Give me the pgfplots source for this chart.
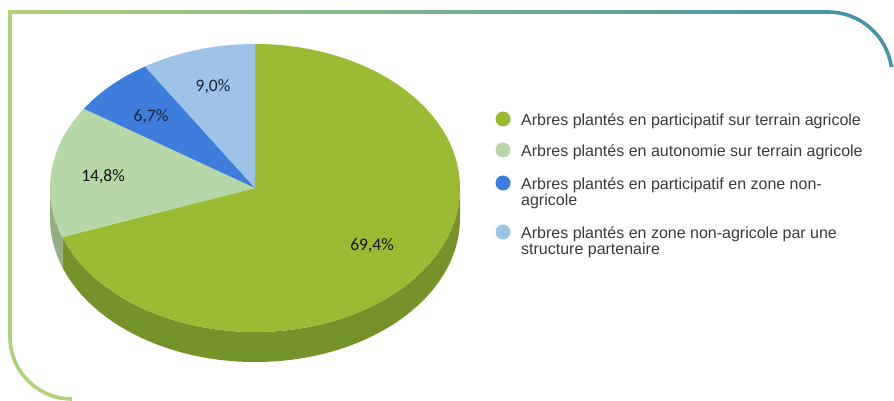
\documentclass[border=0pt]{standalone}
\usepackage{pgfplots}
\pgfplotsset{compat=1.18}
\usepackage{pgfplotstable}
\usepackage{fontspec}
\setmainfont{Liberation Sans}
\newfontfamily\calib{Carlito}

\definecolor{cGreen}{HTML}{9BBB34}
\definecolor{cGreenSide}{HTML}{76922B}
\definecolor{cLGreen}{HTML}{B7D7A8}
\definecolor{cLGreenSide}{HTML}{93AE86}
\definecolor{cBlue}{HTML}{3E7DDB}
\definecolor{cLBlue}{HTML}{9DC3E6}
\definecolor{bordL}{HTML}{B0D07A}
\definecolor{bordR}{HTML}{4894A3}
\definecolor{lblDark}{HTML}{141414}
\definecolor{lblNavy}{HTML}{18233F}
\definecolor{legTxt}{HTML}{3A3A3A}

\pgfplotstableread{
label value
a 69.4
b 14.8
c 6.7
d 9.0
}\piedata

\begin{document}
\begin{tikzpicture}
\begin{axis}[
  scale only axis, width=894pt, height=401pt,
  xmin=0, xmax=894, ymin=0, ymax=401,
  axis lines=none, clip=false,
]
\pgfplotsextra{
  \path (axis cs:0,0) rectangle (axis cs:894,401);
  % read values
  \pgfplotstablegetelem{0}{value}\of\piedata \pgfmathsetmacro\va{\pgfplotsretval}
  \pgfplotstablegetelem{1}{value}\of\piedata \pgfmathsetmacro\vb{\pgfplotsretval}
  \pgfplotstablegetelem{2}{value}\of\piedata \pgfmathsetmacro\vc{\pgfplotsretval}
  \pgfplotstablegetelem{3}{value}\of\piedata \pgfmathsetmacro\vd{\pgfplotsretval}
  \pgfmathsetmacro\tot{\va+\vb+\vc+\vd}
  \pgfmathsetmacro\pA{90}
  \pgfmathsetmacro\pB{90-360*(\va/\tot)}
  \pgfmathsetmacro\pC{90-360*((\va+\vb)/\tot)}
  \pgfmathsetmacro\pD{90-360*((\va+\vb+\vc)/\tot)}
  \pgfmathsetmacro\pE{90-360}
  % sides (front)
  \fill[cGreenSide] (axis cs:255,213) ++(\pB:205pt and 144pt)
     arc[start angle=\pB, end angle=0, x radius=205pt, y radius=144pt]
     -- ++(0pt,-30pt)
     arc[start angle=0, end angle=\pB, x radius=205pt, y radius=144pt] -- cycle;
  \fill[cLGreenSide] (axis cs:255,213) ++(-180:205pt and 144pt)
     arc[start angle=-180, end angle=\pB, x radius=205pt, y radius=144pt]
     -- ++(0pt,-30pt)
     arc[start angle=\pB, end angle=-180, x radius=205pt, y radius=144pt] -- cycle;
  % top faces
  \fill[cGreen] (axis cs:255,213) -- ++(\pA:205pt and 144pt)
     arc[start angle=\pA, end angle=\pB, x radius=205pt, y radius=144pt] -- cycle;
  \fill[cLGreen] (axis cs:255,213) -- ++(\pB:205pt and 144pt)
     arc[start angle=\pB, end angle=\pC, x radius=205pt, y radius=144pt] -- cycle;
  \fill[cBlue] (axis cs:255,213) -- ++(\pC:205pt and 144pt)
     arc[start angle=\pC, end angle=\pD, x radius=205pt, y radius=144pt] -- cycle;
  \fill[cLBlue] (axis cs:255,213) -- ++(\pD:205pt and 144pt)
     arc[start angle=\pD, end angle=\pE, x radius=205pt, y radius=144pt] -- cycle;
  % data labels
  \node[text=lblDark, font=\calib\fontsize{17.5}{19}\selectfont] at (axis cs:372,155) {69,4\%};
  \node[text=lblDark, font=\calib\fontsize{17.5}{19}\selectfont] at (axis cs:103,224) {14,8\%};
  \node[text=lblNavy, font=\calib\fontsize{17.5}{19}\selectfont] at (axis cs:151,284) {6,7\%};
  \node[text=lblNavy, font=\calib\fontsize{17.5}{19}\selectfont] at (axis cs:213,314) {9,0\%};
  % legend
  \fill[cGreen]  (axis cs:503,282) circle[radius=7.5pt];
  \fill[cLGreen] (axis cs:503,251) circle[radius=7.5pt];
  \fill[cBlue]   (axis cs:503,218) circle[radius=7.5pt];
  \fill[cLBlue]  (axis cs:503,169) circle[radius=7.5pt];
  \begin{scope}[every node/.style={anchor=base west, inner sep=0pt, text=legTxt, font=\fontsize{16}{17}\selectfont}]
  \node at (axis cs:521,275.5) {Arbres plantés en participatif sur terrain agricole};
  \node at (axis cs:521,244.3) {Arbres plantés en autonomie sur terrain agricole};
  \node at (axis cs:521,211.5) {Arbres plantés en participatif en zone non-};
  \node at (axis cs:521,195.5) {agricole};
  \node at (axis cs:521,162.7) {Arbres plantés en zone non-agricole par une};
  \node at (axis cs:521,146.7) {structure partenaire};
  \end{scope}
  % frame: left part and bottom-left curve
  \draw[line width=3.6pt, color=bordL, line cap=butt]
    (axis cs:72,2) arc[start angle=270, end angle=180, radius=62pt]
    -- (axis cs:10,389) -- (axis cs:12,389);
  % top edge as colour-graded segments
  \foreach \i in {0,...,27}{
    \pgfmathsetmacro\pct{100-100*\i/27}
    \pgfmathsetmacro\xa{10+\i*29.25-0.6}
    \pgfmathsetmacro\xb{10+(\i+1)*29.25+0.6}
    \draw[line width=3.6pt, color=bordL!\pct!bordR, line cap=butt]
      (axis cs:\xa,389) -- (axis cs:\xb,389);
  }
  % top-right corner
  \begin{pgfinterruptboundingbox}
  \draw[line width=3.6pt, color=bordR, line cap=butt]
    (axis cs:828,389) arc[start angle=90, end angle=8, radius=64pt];
  \end{pgfinterruptboundingbox}
}
\end{axis}
\end{tikzpicture}
\end{document}
